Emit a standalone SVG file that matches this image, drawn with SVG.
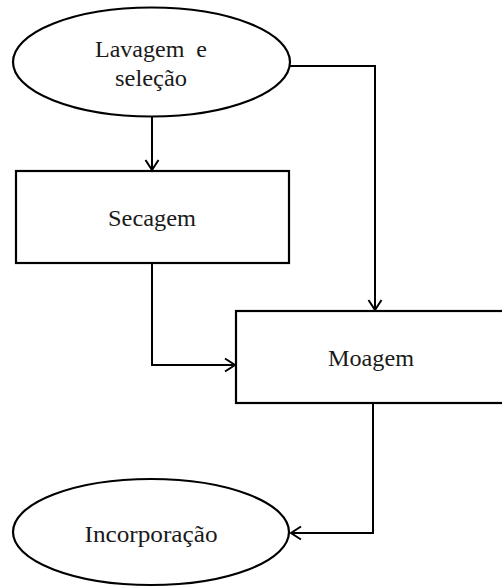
<svg xmlns="http://www.w3.org/2000/svg" width="502" height="587" viewBox="0 0 502 587">
<defs>
<style>
.node{fill:#fff;stroke:#000;stroke-width:2.2}
.lbl{font-family:"Liberation Serif","Times New Roman",serif;font-size:24px;fill:#1a1a1a;text-anchor:middle}
.conn{fill:none;stroke:#000;stroke-width:2}
</style>
<marker id="arr" markerWidth="14" markerHeight="16" refX="11" refY="8" orient="auto" markerUnits="userSpaceOnUse">
<path d="M1,1.5 L11,8 L1,14.5" fill="none" stroke="#000" stroke-width="2"/>
</marker>
</defs>
<rect width="502" height="587" fill="#fff"/>
<g id="connectors">
<path class="conn" d="M152,117 V170" marker-end="url(#arr)"/>
<path class="conn" d="M290,66 H375 V310" marker-end="url(#arr)"/>
<path class="conn" d="M152,263 V365 H235" marker-end="url(#arr)"/>
<path class="conn" d="M373,403 V533 H291" marker-end="url(#arr)"/>
</g>
<g id="lavagem">
<ellipse class="node" cx="151.5" cy="62" rx="138.5" ry="54.5"/>
<text class="lbl" x="151" y="57" textLength="112" lengthAdjust="spacingAndGlyphs" xml:space="preserve">Lavagem  e</text>
<text class="lbl" x="151" y="86" textLength="72" lengthAdjust="spacingAndGlyphs">seleção</text>
</g>
<g id="secagem">
<rect class="node" x="16" y="171" width="273" height="92"/>
<text class="lbl" x="152" y="226" textLength="88" lengthAdjust="spacingAndGlyphs">Secagem</text>
</g>
<g id="moagem">
<rect class="node" x="236" y="311" width="280" height="92"/>
<text class="lbl" x="371" y="366" textLength="86" lengthAdjust="spacingAndGlyphs">Moagem</text>
</g>
<g id="incorporacao">
<ellipse class="node" cx="151" cy="532" rx="138" ry="53"/>
<text class="lbl" x="151" y="542" textLength="133" lengthAdjust="spacingAndGlyphs">Incorporação</text>
</g>
</svg>
